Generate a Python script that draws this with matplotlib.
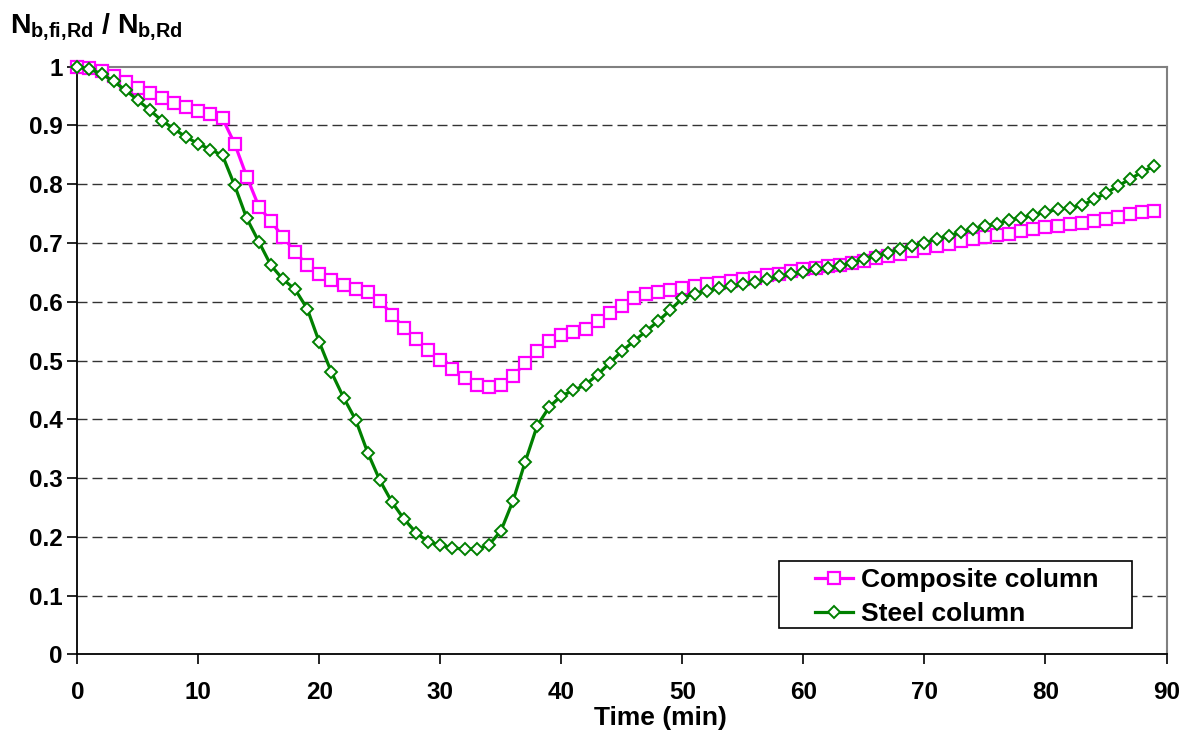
import numpy as np
import matplotlib
matplotlib.use("Agg")
import matplotlib.pyplot as plt
from matplotlib.patches import Rectangle

plt.rcParams['font.family'] = ['Liberation Sans', 'DejaVu Sans']
plt.rcParams['font.weight'] = 'bold'
plt.rcParams['mathtext.fontset'] = 'custom'
plt.rcParams['mathtext.rm'] = 'Liberation Sans:bold'
plt.rcParams['mathtext.it'] = 'Liberation Sans:bold'
plt.rcParams['mathtext.bf'] = 'Liberation Sans:bold'

# time in minutes, one reading per minute
time_min = list(range(0, 90))

composite_column = [
    1.000, 0.997, 0.992, 0.984, 0.974, 0.963, 0.955, 0.946, 0.938, 0.931,
    0.924, 0.919, 0.912, 0.869, 0.813, 0.762, 0.737, 0.710, 0.685, 0.662,
    0.648, 0.637, 0.628, 0.622, 0.616, 0.602, 0.578, 0.556, 0.536, 0.518,
    0.501, 0.485, 0.471, 0.459, 0.455, 0.459, 0.474, 0.495, 0.517, 0.533,
    0.543, 0.548, 0.554, 0.567, 0.580, 0.593, 0.606, 0.614, 0.616, 0.620,
    0.623, 0.627, 0.630, 0.632, 0.635, 0.639, 0.641, 0.645, 0.648, 0.652,
    0.655, 0.658, 0.660, 0.662, 0.666, 0.670, 0.674, 0.678, 0.681, 0.686,
    0.691, 0.695, 0.699, 0.703, 0.707, 0.711, 0.713, 0.716, 0.720, 0.723,
    0.727, 0.729, 0.732, 0.734, 0.738, 0.741, 0.745, 0.749, 0.753, 0.755,
]

steel_column = [
    1.000, 0.996, 0.988, 0.975, 0.960, 0.943, 0.926, 0.908, 0.894, 0.880,
    0.869, 0.859, 0.849, 0.798, 0.742, 0.702, 0.662, 0.638, 0.621, 0.588,
    0.531, 0.480, 0.437, 0.399, 0.343, 0.296, 0.259, 0.230, 0.207, 0.191,
    0.186, 0.181, 0.179, 0.179, 0.186, 0.210, 0.261, 0.327, 0.389, 0.421,
    0.440, 0.449, 0.459, 0.476, 0.496, 0.516, 0.533, 0.550, 0.567, 0.586,
    0.606, 0.614, 0.619, 0.623, 0.626, 0.630, 0.633, 0.638, 0.643, 0.647,
    0.651, 0.655, 0.658, 0.661, 0.666, 0.673, 0.678, 0.683, 0.690, 0.695,
    0.700, 0.707, 0.712, 0.718, 0.723, 0.729, 0.733, 0.739, 0.743, 0.747,
    0.753, 0.757, 0.760, 0.764, 0.774, 0.785, 0.797, 0.809, 0.821, 0.831,
]

x_ticks = list(range(0, 100, 10))
y_ticks = [0, 0.1, 0.2, 0.3, 0.4, 0.5, 0.6, 0.7, 0.8, 0.9, 1]

W, H = 1188, 738
fig = plt.figure(figsize=(W / 100, H / 100), dpi=100)
ax = fig.add_axes([77.3 / W, 1 - 654.3 / H, (1166.5 - 77.3) / W, (654.3 - 66.7) / H])

# horizontal dashed grid lines
for yv in y_ticks[1:-1]:
    ax.axhline(yv, color='#333333', linewidth=1.0, dashes=(7.2, 3.6), zorder=1)

ax.plot(time_min, composite_column, color='#FF00FF', linewidth=2.3,
        marker='s', markersize=8, markerfacecolor='white',
        markeredgecolor='#FF00FF', markeredgewidth=1.6,
        label='Composite column', clip_on=False, zorder=3)
ax.plot(time_min, steel_column, color='#008000', linewidth=2.3,
        marker='D', markersize=5.8, markerfacecolor='white',
        markeredgecolor='#008000', markeredgewidth=1.4,
        label='Steel column', clip_on=False, zorder=4)

ax.set_xlim(0, 90)
ax.set_ylim(0, 1)
ax.set_xticks(x_ticks)
ax.set_yticks(y_ticks)
ax.set_yticklabels(['%g' % v for v in y_ticks])
ax.tick_params(axis='both', direction='out', length=7, width=1.2,
               labelsize=17.5, colors='black')
ax.tick_params(axis='x', pad=12.5)
ax.tick_params(axis='y', pad=3.5)

ax.spines['left'].set_color('black')
ax.spines['bottom'].set_color('black')
ax.spines['left'].set_linewidth(1.3)
ax.spines['bottom'].set_linewidth(1.3)
ax.spines['top'].set_color('#808080')
ax.spines['right'].set_color('#808080')
ax.spines['top'].set_linewidth(1.5)
ax.spines['right'].set_linewidth(1.5)

ax.set_xlabel('Time (min)', fontsize=19, fontweight='bold')
ax.xaxis.set_label_coords(0.535, -0.088)

fig.text(10 / W, 1 - 32 / H, r'$N_{b{,}fi{,}Rd}$ / $N_{b{,}Rd}$',
         fontsize=20.5, fontweight='bold', va='baseline', ha='left')

# legend box drawn separately to get Excel-like padding
box = Rectangle((779 / W, 1 - 628 / H), (1132 - 779) / W, (628 - 560.5) / H,
                transform=fig.transFigure, facecolor='white',
                edgecolor='black', linewidth=1.2, zorder=5, clip_on=False)
ax.add_patch(box)
leg = ax.legend(loc='upper left', bbox_to_anchor=(815 / W, 1 - 568 / H),
                bbox_transform=fig.transFigure, frameon=False,
                handlelength=1.45, handletextpad=0.28,
                labelspacing=0.38, borderpad=0, borderaxespad=0,
                prop={'weight': 'bold', 'size': 19})
leg.set_zorder(6)

fig.savefig('out.png', dpi=100)
